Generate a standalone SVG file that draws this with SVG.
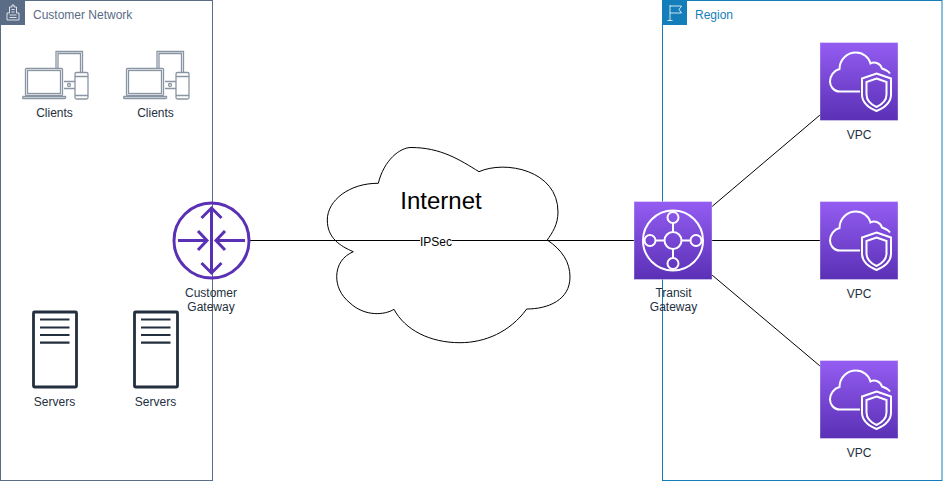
<svg xmlns="http://www.w3.org/2000/svg" xmlns:xlink="http://www.w3.org/1999/xlink" width="943" height="482" viewBox="0 0 943 482">
<style>
text{font-family:"Liberation Sans",Arial,sans-serif;font-size:12px;fill:#232F3E;text-anchor:middle}
.conn{fill:none;stroke:#000;stroke-width:1}
.grp{fill:none;stroke-width:1}
.cl{fill:none;stroke:#8A95A3;stroke-width:1.300}
.srv{fill:none;stroke:#232F3E;stroke-width:2.800}
.ln{fill:none;stroke:#232F3E;stroke-width:2.200}
.tile{stroke:#fff;stroke-opacity:.35;stroke-width:1;fill:url(#pg)}
.w{fill:none;stroke:#fff;stroke-width:2}
.gw{fill:none;stroke:#5A30B5;stroke-width:3}
</style>
<defs>
<linearGradient id="pg" x1="0" y1="0" x2="0" y2="1"><stop offset="0" stop-color="#945DF2"/><stop offset="1" stop-color="#5A30B5"/></linearGradient>
<g id="clientIcon">
<rect class="cl" x="25.500" y="68.500" width="37" height="27" rx="1"/>
<rect class="cl" x="27.500" y="70.500" width="33" height="23"/>
<path class="cl" d="M23 96.500H65.500Q66 98.500 64.500 98.500H23.500Q22 98.500 23 96.500Z"/>
<path class="cl" d="M56 68V51.500H82.500V72M58 68V53.500H80.500V72"/>
<rect class="cl" x="75" y="72.500" width="13" height="26.500" rx="1.500"/>
<path class="cl" d="M75 76.500H88M75 95.500H88"/>
<path class="cl" d="M64 81.500H75M64 88.500H75"/>
<circle class="cl" cx="69" cy="85" r="1.500"/>
</g>
<g id="serverIcon">
<rect class="srv" x="33.500" y="312" width="43" height="75" rx="1"/>
<path class="ln" d="M40 319.500H69.500M40 327.500H69.500M40 335H69.500M40 342.700H69.500"/>
</g>
<g id="vpcIcon">
<rect class="tile" x="0" y="0" width="78" height="78"/>
<path class="w" d="M40 49H20C13 49 10 43 10 39C10 33 14 28 19.500 26.500C19.500 17 27 10 36 10C43 10 49 15 50.500 21C54 19 60 20 62 26C65 27 68 28.500 70 31"/>
<path class="w" d="M56.500 31L71 36V52C71 60 65 65 56.500 68.500C48 65 42 60 42 52V36Z"/>
<path class="w" d="M56.500 36L66.500 39.500V52C66.500 58 63 61.500 56.500 64.500C50 61.500 46.500 58 46.500 52V39.500Z"/>
</g>
</defs>

<g id="customer-network">
<rect class="grp" x="0.500" y="0.500" width="212" height="480" stroke="#5A6C86"/>
<rect x="0" y="0" width="25" height="25" fill="#5A6C86"/>
<path d="M7 20V13H9.500V7H12V5H14V7H16.500V13H19V20ZM11.500 9.500H14.500M11.500 12H14.500M9.500 15H16.500M9.500 17.500H16.500" fill="none" stroke="#fff" stroke-width=".8"/>
<text x="33" y="19" style="text-anchor:start;fill:#5A6C86">Customer Network</text>
</g>

<g id="region">
<rect class="grp" x="662.500" y="0.500" width="279.500" height="480" stroke="#147EBA"/>
<rect x="662" y="0" width="25" height="25" fill="#147EBA"/>
<path d="M670 20.500V5M667.500 20.500H672.500M670 6H681.500L679 9.500L681.500 13H670" fill="none" stroke="#fff" stroke-width=".8"/>
<text x="695" y="19" style="text-anchor:start;fill:#147EBA">Region</text>
</g>

<g id="internet">
<path d="M378.300 183.300C384 160 400 147.500 411 147.500C441 147.500 460 160 479 171.700C505 160 558 170 558 212C558 225 552 233 547.300 240C562 250 570 262 570 277C570 300 548 309 526.700 309C510 332 485 342.700 460 342.700C430 342.700 405 330 394 309.300C385 315 365 317 350 303C340 295 336.700 285 336.700 276.700C336.700 265 343 256 353.300 251.700C340 246 327.300 238 327.300 220C327.300 200 350 183 378.300 183.300Z" fill="#fff" stroke="#000" stroke-width="1"/>
<text x="441" y="209" style="font-size:24px;fill:#000">Internet</text>
</g>

<g id="connectors">
<path class="conn" d="M250 240.500H634"/>
<path class="conn" d="M712 206.500L820 115"/>
<path class="conn" d="M712 240.500H820"/>
<path class="conn" d="M712 275L820 366"/>
<rect x="420" y="235" width="32" height="12" fill="#fff"/>
<text x="436" y="246" style="fill:#000">IPSec</text>
</g>

<g id="clients-1"><use href="#clientIcon"/><text x="54.500" y="117">Clients</text></g>
<g id="clients-2"><use href="#clientIcon" x="101"/><text x="155.500" y="117">Clients</text></g>
<g id="servers-1"><use href="#serverIcon"/><text x="54.500" y="406">Servers</text></g>
<g id="servers-2"><use href="#serverIcon" x="101"/><text x="155.500" y="406">Servers</text></g>

<g id="customer-gateway">
<circle class="gw" cx="211.500" cy="240.500" r="37.500"/>
<path class="gw" d="M211.500 208V273M201.500 218L211.500 208L221.500 218M201.500 263L211.500 273L221.500 263M178 240.500H207M198 231L207 240.500L198 250M245 240.500H216M225 231L216 240.500L225 250"/>
<text x="211" y="297">Customer</text>
<text x="211" y="311">Gateway</text>
</g>

<g id="transit-gateway">
<rect class="tile" x="634" y="201.500" width="78" height="78"/>
<circle class="w" cx="673" cy="240.500" r="30"/>
<circle class="w" cx="673" cy="240.500" r="8.500"/>
<circle class="w" cx="673" cy="217.500" r="5.500"/>
<circle class="w" cx="673" cy="263.500" r="5.500"/>
<circle class="w" cx="650" cy="240.500" r="5.500"/>
<circle class="w" cx="696" cy="240.500" r="5.500"/>
<path class="w" d="M673 223V232M673 249V258M655.500 240.500H664.500M681.500 240.500H690.500"/>
<text x="673.500" y="297">Transit</text>
<text x="673.500" y="311">Gateway</text>
</g>

<g id="vpc-1"><use href="#vpcIcon" x="820" y="42.500"/><text x="859" y="139">VPC</text></g>
<g id="vpc-2"><use href="#vpcIcon" x="820" y="201.500"/><text x="859" y="298">VPC</text></g>
<g id="vpc-3"><use href="#vpcIcon" x="820" y="360.500"/><text x="859" y="457">VPC</text></g>
</svg>
